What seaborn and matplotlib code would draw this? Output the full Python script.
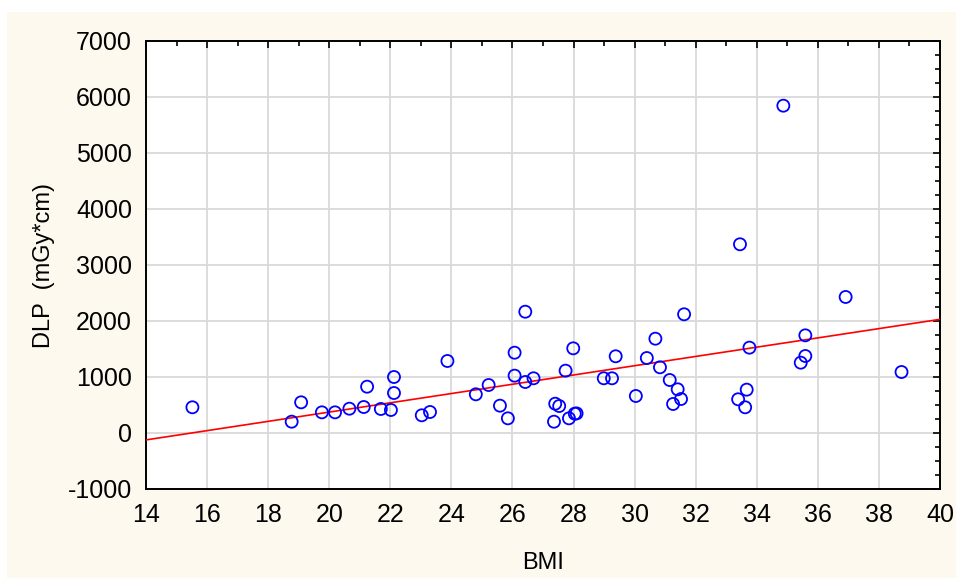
import numpy as np
import pandas as pd
import matplotlib
matplotlib.use("Agg")
import matplotlib.pyplot as plt
import seaborn as sns
from matplotlib.patches import Rectangle
from matplotlib.ticker import MultipleLocator

# Data
bmi = [15.52, 18.77, 19.08, 19.76, 20.19, 20.66, 21.13, 21.24, 21.69, 22.02,
       22.12, 22.12, 23.03, 23.30, 23.87, 24.80, 25.22, 25.59, 25.85, 26.07,
       26.07, 26.42, 26.42, 26.69, 27.36, 27.40, 27.53, 27.74, 27.85, 27.99,
       28.04, 28.10, 28.99, 29.26, 29.38, 30.04, 30.40, 30.68, 30.83, 31.15,
       31.41, 31.26, 31.52, 31.62, 34.87, 33.45, 36.91, 35.59, 33.76, 35.59,
       35.44, 38.74, 33.67, 33.39, 33.62]
dlp = [459, 202, 548, 369, 369, 434, 464, 827, 429, 411,
       1000, 714, 316, 375, 1286, 691, 857, 488, 262, 1434,
       1024, 2166, 911, 977, 202, 523, 482, 1113, 262, 1512,
       345, 350, 977, 977, 1370, 661, 1339, 1684, 1173, 946,
       780, 518, 607, 2120, 5845, 3370, 2429, 1744, 1524, 1375,
       1256, 1089, 774, 602, 459]

df = pd.DataFrame({'BMI': bmi, 'DLP': dlp})

sns.set_style("white")
plt.rcParams['font.family'] = ['Liberation Sans', 'DejaVu Sans']
plt.rcParams['axes.unicode_minus'] = False
plt.rcParams['text.color'] = 'black'
plt.rcParams['axes.labelcolor'] = 'black'
plt.rcParams['xtick.color'] = 'black'
plt.rcParams['ytick.color'] = 'black'

fig = plt.figure(figsize=(9.56, 5.78), dpi=100)
fig.patch.set_facecolor('white')
fig.patches.append(Rectangle((7 / 956, 0), 1, 1 - 12 / 578, transform=fig.transFigure,
                             facecolor='#FEF9EF', edgecolor='none', zorder=-10))

ax = fig.add_axes([146 / 956, 1 - 489 / 578, (940 - 146) / 956, (489 - 41) / 578])
ax.set_facecolor('white')
ax.set_xlim(14, 40)
ax.set_ylim(-1000, 7000)

sns.regplot(data=df, x='BMI', y='DLP', scatter=False, ci=None, truncate=False,
            color='#FF0000', line_kws={'linewidth': 1.2, 'zorder': 3}, ax=ax)
sns.scatterplot(data=df, x='BMI', y='DLP', s=75, facecolors='none',
                edgecolor='#0000FF', linewidth=1.3, zorder=4, ax=ax)
ax.set_xlim(14, 40)
ax.set_ylim(-1000, 7000)

ax.xaxis.set_major_locator(MultipleLocator(2))
ax.xaxis.set_minor_locator(MultipleLocator(1))
ax.yaxis.set_major_locator(MultipleLocator(1000))
ax.yaxis.set_minor_locator(MultipleLocator(250))
ax.grid(True, which='major', color='#D9D9D9', linewidth=1.3)
ax.set_axisbelow(True)

for sp in ax.spines.values():
    sp.set_visible(True)
    sp.set_color('black')
    sp.set_linewidth(1.4)

ax.tick_params(which='both', direction='in', top=True, right=True, color='black',
               width=1.2, labelsize=18, pad=10)
ax.tick_params(which='major', length=5)
ax.tick_params(which='minor', length=3.5)

ax.set_xlabel('BMI', fontsize=17, labelpad=18)
ax.set_ylabel('DLP  (mGy*cm)', fontsize=17, labelpad=9)

fig.savefig('out.png', dpi=100)
